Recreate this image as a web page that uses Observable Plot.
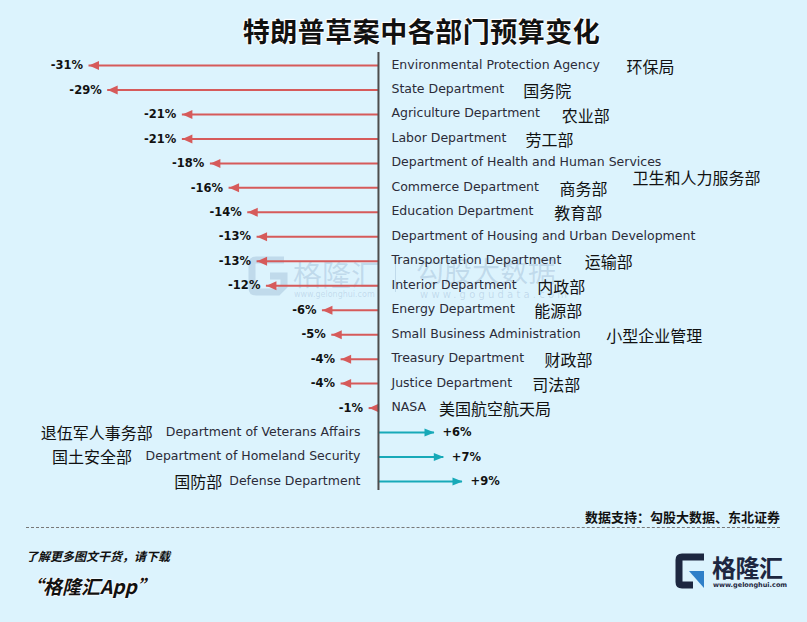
<!DOCTYPE html>
<html>
<head>
<meta charset="utf-8">
<script src="https://cdn.jsdelivr.net/npm/d3@7"></script>
<script src="https://cdn.jsdelivr.net/npm/@observablehq/plot@0.6"></script>
<style>
  html, body { margin: 0; padding: 0; }
  body { width: 807px; height: 622px; overflow: hidden; background: #dcf3fd; position: relative; font-family: "Noto Sans CJK SC", "Noto Sans", sans-serif; }
  .abs { position: absolute; white-space: nowrap; }
  #title { left: 0; width: 843px; top: 11px; text-align: center; font-size: 27px; font-weight: 700; color: #111;
    text-shadow: 0 0 2px #fff, 0 0 2px #fff, 1px 1px 1px #fff, -1px -1px 1px #fff; letter-spacing: 0.5px; }
  #chart { left: 0; top: 40px; }
  #chart text.en { letter-spacing: 0.5px; }
  #source { right: 27px; top: 507px; font-size: 13px; font-weight: 700; color: #111; }
  #dash { left: 26px; width: 754px; top: 527px; border-top: 1px dashed #777; }
  #more { left: 26px; top: 547px; font-size: 12px; font-weight: 700; font-style: italic; color: #111; }
  #app { left: 24px; top: 572px; font-size: 19px; font-weight: 700; font-style: italic; color: #111;
    text-shadow: 0 0 2px #fff, 0 0 2px #fff, 0 0 2px #fff; }
  .wm { color: rgba(95,130,175,0.22); }
</style>
</head>
<body>
<div id="title" class="abs">特朗普草案中各部门预算变化</div>

<!-- faint watermarks -->
<svg class="abs" style="left:248px;top:256px" width="40" height="40" viewBox="0 0 40 40">
  <path d="M36 4 H8 Q4 4 4 8 V32 Q4 36 8 36 H30 L36 30 V20 H22" fill="none" stroke="rgba(95,130,175,0.22)" stroke-width="7"/>
</svg>
<div class="abs wm" style="left:293px;top:252px;font-size:29px;">格隆汇</div>
<div class="abs wm" style="left:294px;top:290px;font-size:8px;font-family:'DejaVu Sans';">www.gelonghui.com</div>
<div class="abs" style="left:395px;top:258px;width:1px;height:34px;background:rgba(95,130,175,0.22);"></div>
<div class="abs wm" style="left:416px;top:250px;font-size:28px;">勾股大数据</div>
<div class="abs wm" style="left:420px;top:289px;font-size:10px;letter-spacing:3.2px;font-family:'DejaVu Sans';">www.gogudata.com</div>

<div id="chart" class="abs"></div>

<div id="source" class="abs">数据支持：勾股大数据、东北证券</div>
<div id="dash" class="abs"></div>
<div id="more" class="abs">了解更多图文干货，请下载</div>
<div id="app" class="abs">“格隆汇App”</div>

<!-- brand logo -->
<svg class="abs" style="left:675px;top:552px" width="32" height="38" viewBox="0 0 32 38">
  <path d="M29 5 H7 Q4 5 4 8 V30 Q4 33 7 33 H18" fill="none" stroke="#1d2740" stroke-width="7"/>
  <path d="M14 19 H29 V36 Z" fill="#2f7fc8"/>
</svg>
<div class="abs" style="left:712px;top:555px;font-size:24px;line-height:24px;font-weight:700;color:#1d2740;letter-spacing:-0.5px;">格隆汇</div>
<div class="abs" style="left:713px;top:582px;font-size:6.5px;line-height:7px;font-weight:700;color:#1d2740;font-family:'DejaVu Sans';">www.gelonghui.com</div>

<script>
// ---- data ----
const departments = [
  "Environmental Protection Agency", "State Department", "Agriculture Department", "Labor Department",
  "Department of Health and Human Services", "Commerce Department", "Education Department",
  "Department of Housing and Urban Development", "Transportation Department", "Interior Department",
  "Energy Department", "Small Business Administration", "Treasury Department", "Justice Department",
  "NASA", "Department of Veterans Affairs", "Department of Homeland Security", "Defense Department"
];
const departmentsCN = [
  "环保局", "国务院", "农业部", "劳工部", "卫生和人力服务部", "商务部", "教育部", "",
  "运输部", "内政部", "能源部", "小型企业管理", "财政部", "司法部", "美国航空航天局",
  "退伍军人事务部", "国土安全部", "国防部"
];
const changes = [-31, -29, -21, -21, -18, -16, -14, -13, -13, -12, -6, -5, -4, -4, -1, 6, 7, 9];

const data = departments.map((en, i) => ({ en, cn: departmentsCN[i], v: changes[i] }));
const neg = data.filter(d => d.v < 0);
const pos = data.filter(d => d.v > 0);

const RED = "#d65a5a";
const TEAL = "#17a9b8";
const enSize = 12.5;
const enFont = enSize + "px 'DejaVu Sans'";
const enSpacing = 0.5;
const cnSize = 16;

// text measurement for label placement
const ctx = document.createElement("canvas").getContext("2d");
function textWidth(s, font, spacing = 0) { ctx.font = font; return ctx.measureText(s).width + s.length * spacing; }

const W = 807, H = 460;
const xOpt = { domain: [-31, 9], range: [88.5, 462] };
const xs = Plot.scale({ x: xOpt });
const x0 = xs.apply(0);
const px = (p) => xs.invert(p);

// arrow-head symbols (tip at origin)
const headLeft = { draw(c) { c.moveTo(0, 0); c.lineTo(10, -4.5); c.lineTo(10, 4.5); c.closePath(); } };
const headRight = { draw(c) { c.moveTo(0, 0); c.lineTo(-10, -4); c.lineTo(-10, 4); c.closePath(); } };

const enGapR = 13, enGapL = 18, cnGap = 11, maxRight = 760;

// Chinese label positions derived from English label width
const cnRight = neg.filter(d => d.cn).map(d => {
  const start = x0 + enGapR + textWidth(d.en, enFont, enSpacing) + cnGap;
  const w = d.cn.length * cnSize;
  return { ...d, overflow: start + w > maxRight, start };
});
const cnInline = cnRight.filter(d => !d.overflow);
const cnWrapped = cnRight.filter(d => d.overflow);
const cnLeft = pos.map(d => ({ ...d, end: x0 - enGapL - textWidth(d.en, enFont, enSpacing) + 2 }));

const enStyle = { fontFamily: "DejaVu Sans", fontSize: enSize, fill: "#2b2b38", className: "en" };
const valStyle = { fontFamily: "DejaVu Sans", fontWeight: "bold", fontSize: 11.5, fill: "#111" };
const cnStyle = { fontFamily: "Noto Sans CJK SC", fontSize: cnSize, fill: "#111" };

const chart = Plot.plot({
  width: W, height: H,
  marginTop: 12, marginBottom: 10, marginLeft: 0, marginRight: 0,
  x: { ...xOpt, axis: null },
  y: { type: "point", domain: departments, range: [25, 441], padding: 0, round: false, axis: null },
  style: { background: "transparent", overflow: "visible" },
  marks: [
    // shafts
    Plot.ruleY(neg, { y: "en", x1: 0, x2: "v", stroke: RED, strokeWidth: 2 }),
    Plot.ruleY(pos, { y: "en", x1: 0, x2: "v", stroke: TEAL, strokeWidth: 2 }),
    // heads
    Plot.dot(neg, { y: "en", x: "v", symbol: headLeft, fill: RED, stroke: "none" }),
    Plot.dot(pos, { y: "en", x: "v", symbol: headRight, fill: TEAL, stroke: "none" }),
    // axis line
    Plot.ruleX([0], { stroke: "#4d4d4d", strokeWidth: 2 }),
    // value labels
    Plot.text(neg, { y: "en", x: "v", text: d => d.v + "%", dx: -6, textAnchor: "end", ...valStyle }),
    Plot.text(pos, { y: "en", x: "v", text: d => "+" + d.v + "%", dx: 8, textAnchor: "start", ...valStyle }),
    // English labels
    Plot.text(neg, { y: "en", x: 0, text: "en", dx: enGapR, dy: -1, textAnchor: "start", ...enStyle }),
    Plot.text(pos, { y: "en", x: 0, text: "en", dx: -enGapL, dy: -1, textAnchor: "end", ...enStyle }),
    // Chinese labels
    Plot.text(cnInline, { y: "en", x: d => px(d.start), text: "cn", dy: 2, textAnchor: "start", ...cnStyle }),
    Plot.text(cnWrapped, { y: "en", x: () => px(maxRight), text: "cn", dy: 15, textAnchor: "end", ...cnStyle }),
    Plot.text(cnLeft, { y: "en", x: d => px(d.end), text: "cn", dy: 1, textAnchor: "end", ...cnStyle })
  ]
});
document.getElementById("chart").appendChild(chart);
</script>
</body>
</html>
